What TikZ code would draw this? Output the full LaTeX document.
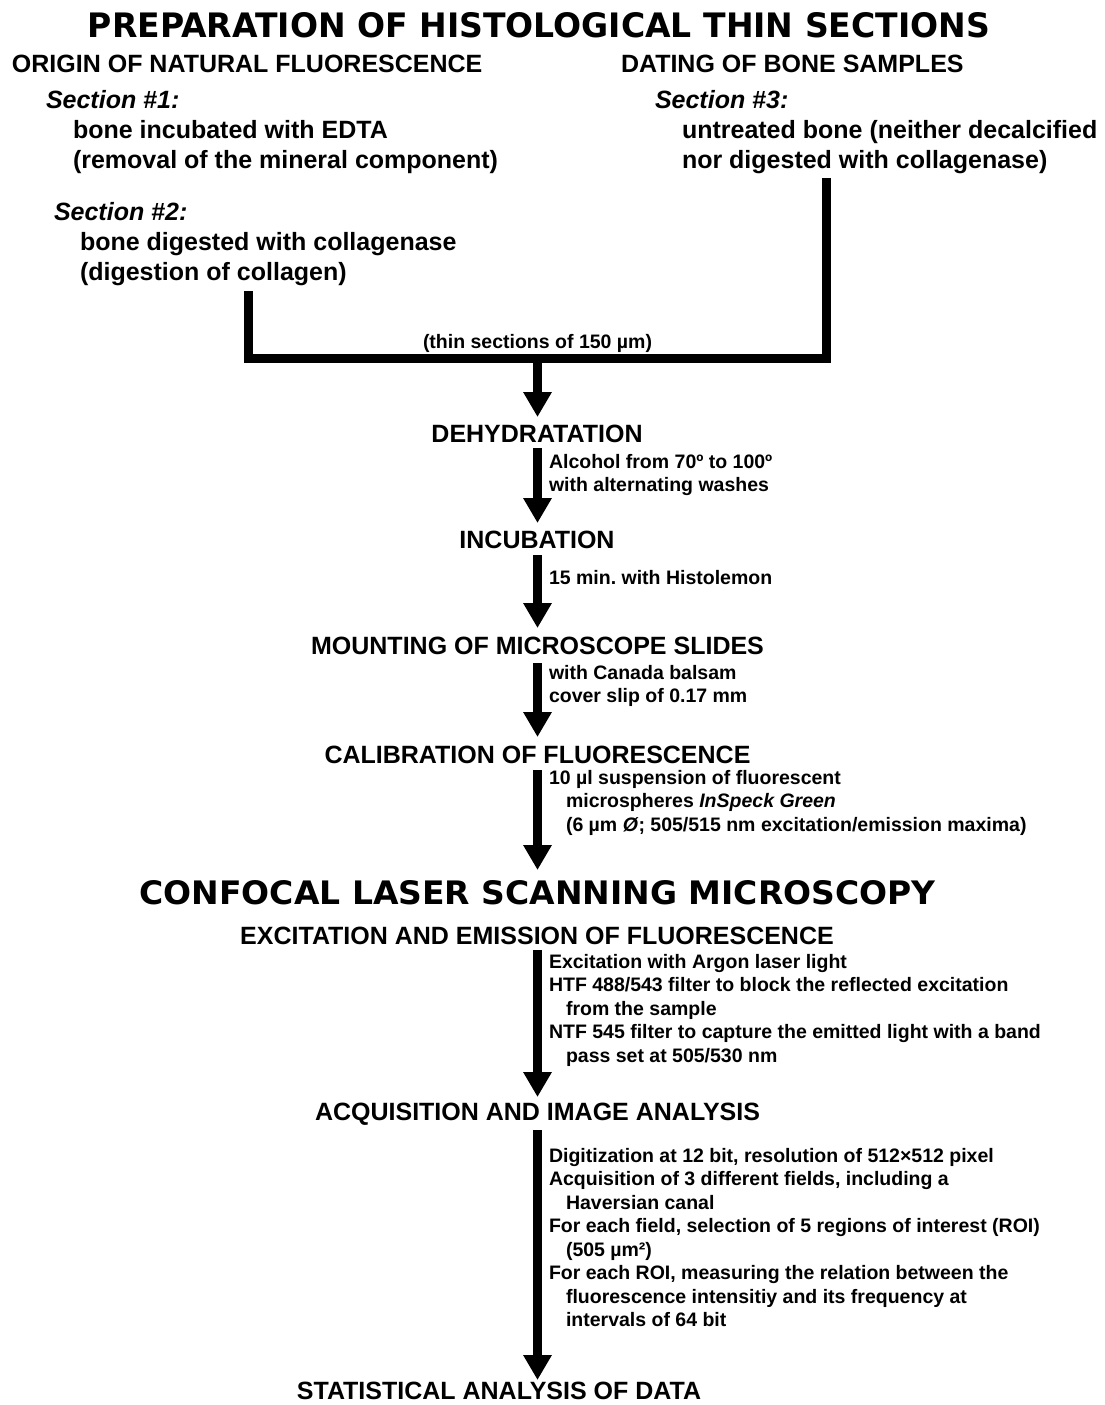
\documentclass[tikz,border=0pt]{standalone}
\usepackage{fontspec}
\usepackage{graphicx}
\setmainfont{Liberation Sans}
\newfontfamily\blackfont{DejaVu Sans}
\usetikzlibrary{arrows.meta}
\frenchspacing
\tikzset{
  big/.style={font=\fontsize{25pt}{30pt}\selectfont\bfseries, inner sep=0pt, outer sep=0pt},
  det/.style={font=\fontsize{19.5pt}{23.5pt}\selectfont\bfseries, inner sep=0pt, outer sep=0pt},
  head/.style={big, anchor=base, text height=18pt, text depth=0pt},
  lefttext/.style={big, anchor=base west},
  detail/.style={det, anchor=base west},
  bigarrow/.style={line width=8.5pt, -{Triangle[width=27pt,length=25pt]}},
  bracketline/.style={line width=9pt, miter limit=10},
  bigtitle/.style={anchor=base, inner sep=0pt, outer sep=0pt}
}
\newcommand{\blk}[1]{\begin{tabular}[t]{@{}l@{}}#1\end{tabular}}
\newcommand{\ind}{\hspace*{17pt}}
\begin{document}
\begin{tikzpicture}[x=1pt,y=-1pt]
\useasboundingbox (0,0) rectangle (1104,1405);

% titles
\node[bigtitle] (title) at (539,37.7) {\resizebox{902pt}{25pt}{\blackfont\bfseries PREPARATION OF HISTOLOGICAL THIN SECTIONS}};
\node[lefttext] (origin) at (12,73) {ORIGIN OF NATURAL FLUORESCENCE};
\node[lefttext] (dating) at (621,73) {DATING OF BONE SAMPLES};

% section 1
\node[lefttext] (s1t) at (46,108) {\itshape Section \#1:};
\node[lefttext] (s1b) at (73,138) {\blk{bone incubated with EDTA\\(removal of the mineral component)}};
% section 2
\node[lefttext] (s2t) at (54,220) {\itshape Section \#2:};
\node[lefttext] (s2b) at (80,250) {\blk{bone digested with collagenase\\(digestion of collagen)}};
% section 3
\node[lefttext] (s3t) at (655,108) {\itshape Section \#3:};
\node[lefttext] (s3b) at (682,138) {\blk{untreated bone (neither decalcified\\nor digested with collagenase)}};

% bracket
\coordinate (s2end) at (248.5,291);
\coordinate (s3end) at (826.5,178);
\coordinate (junc) at (537.5,358.5);
\coordinate (axis) at (537.5,0);
\draw[bracketline] (s2end) -- (s2end |- junc) -- (s3end |- junc) -- (s3end);
\node[det, anchor=base west] (thin) at (423,348) {(thin sections of 150 µm)};

% steps
\node[head] (dehy) at (537,442) {DEHYDRATATION};
\node[detail] (dehyd) at (549,468) {\blk{Alcohol from 70º to 100º\\with alternating washes}};

\node[head] (incub) at (537,548) {INCUBATION};
\node[detail] (incubd) at (549,584) {15 min. with Histolemon};

\node[head] (mount) at (537.5,654) {MOUNTING OF MICROSCOPE SLIDES};
\node[detail] (mountd) at (549,679) {\blk{with Canada balsam\\cover slip of 0.17 mm}};

\node[head] (calib) at (537.5,763) {CALIBRATION OF FLUORESCENCE};
\node[detail] (calibd) at (549,784) {\blk{10 µl suspension of fluorescent\\\ind microspheres \textit{InSpeck Green}\\\ind (6 µm \textit{Ø}; 505/515 nm excitation/emission maxima)}};

\node[bigtitle] (clsm) at (537.5,904) {\resizebox{796pt}{24pt}{\blackfont\bfseries CONFOCAL LASER SCANNING MICROSCOPY}};

\node[head] (excit) at (537,944) {EXCITATION AND EMISSION OF FLUORESCENCE};
\node[detail] (excitd) at (549,968) {\blk{Excitation with Argon laser light\\HTF 488/543 filter to block the reflected excitation\\\ind from the sample\\NTF 545 filter to capture the emitted light with a band\\\ind pass set at 505/530 nm}};

\node[head] (acq) at (537.5,1120) {ACQUISITION AND IMAGE ANALYSIS};
\node[detail] (acqd) at (549,1162) {\blk{Digitization at 12 bit, resolution of 512×512 pixel\\Acquisition of 3 different fields, including a\\\ind Haversian canal\\For each field, selection of 5 regions of interest (ROI)\\\ind (505 µm²)\\For each ROI, measuring the relation between the\\\ind fluorescence intensitiy and its frequency at\\\ind intervals of 64 bit}};

\node[head] (stat) at (499,1399) {STATISTICAL ANALYSIS OF DATA};

% arrows
\draw[bigarrow, shorten >=7pt] (junc) -- (dehy.north -| axis);
\draw[bigarrow, shorten <=6pt, shorten >=7pt] (dehy.south -| axis) -- (incub.north -| axis);
\draw[bigarrow, shorten <=7pt, shorten >=8pt] (incub.south -| axis) -- (mount.north -| axis);
\draw[bigarrow, shorten <=9pt, shorten >=8pt] (mount.south -| axis) -- (calib.north -| axis);
\draw[bigarrow, shorten <=7pt, shorten >=10pt] (calib.south -| axis) -- (clsm.north -| axis);
\draw[bigarrow, shorten <=6pt, shorten >=5pt] (excit.south -| axis) -- (acq.north -| axis);
\draw[bigarrow, shorten <=10pt, shorten >=1pt] (acq.south -| axis) -- (stat.north -| axis);
\end{tikzpicture}
\end{document}
